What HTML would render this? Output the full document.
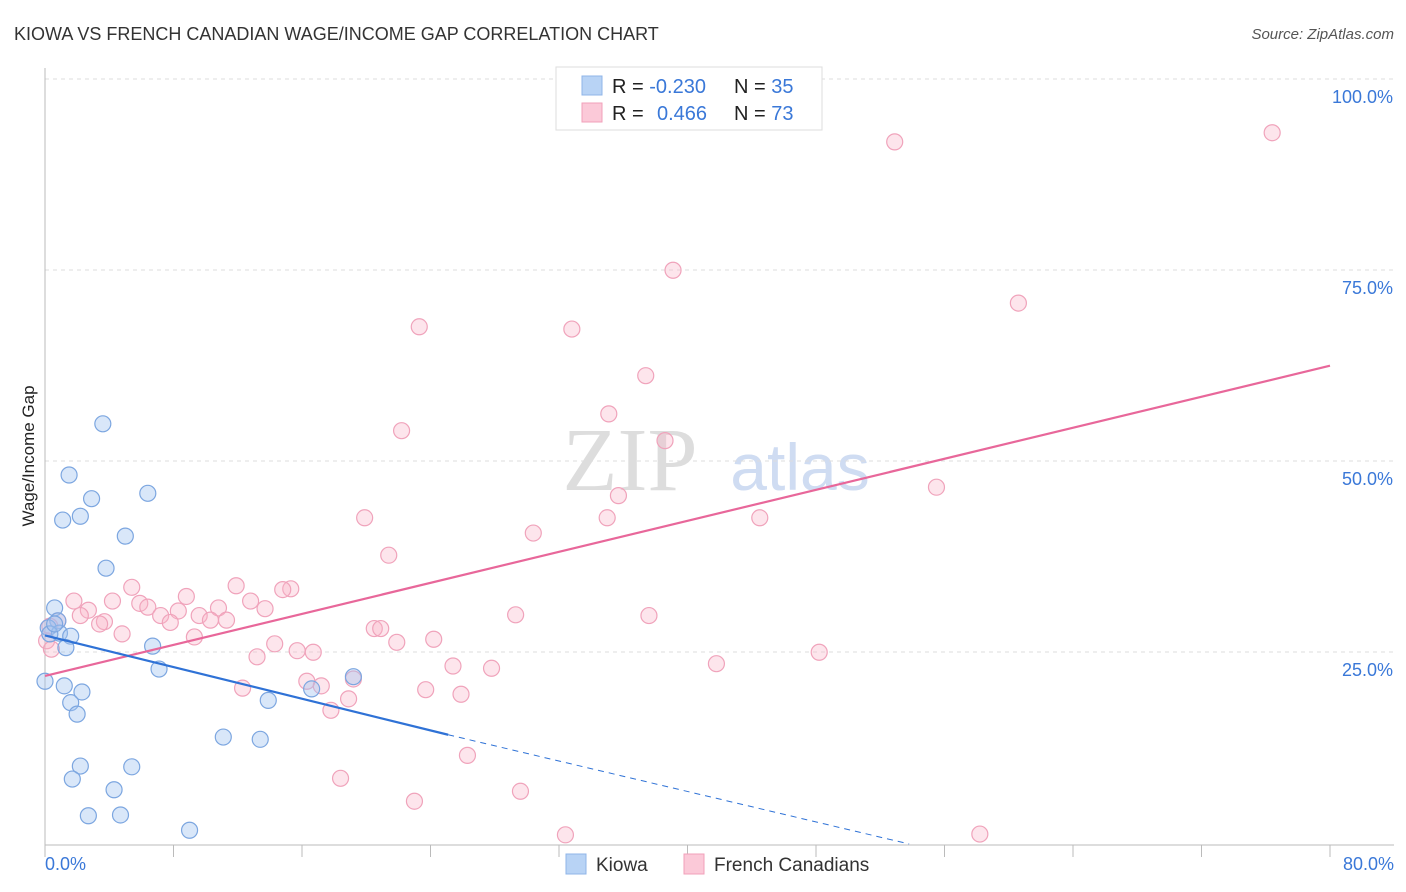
<!DOCTYPE html>
<html><head><meta charset="utf-8"><style>
body{margin:0;background:#fff;font-family:"Liberation Sans",sans-serif;}
svg{display:block}
</style></head><body>
<svg id="chart" width="1406" height="892">
<text x="14" y="40" font-size="18" fill="#333">KIOWA VS FRENCH CANADIAN WAGE/INCOME GAP CORRELATION CHART</text>
<text x="1394" y="39" font-size="15" fill="#555" font-style="italic" text-anchor="end">Source: ZipAtlas.com</text>
<text x="34" y="456" font-size="17" fill="#222" text-anchor="middle" transform="rotate(-90 34 456)">Wage/Income Gap</text>
<text x="630" y="490" font-size="90" fill="#ddd" font-family="Liberation Serif" text-anchor="middle">ZIP</text>
<text x="800" y="490" font-size="66" fill="#cfdcf2" text-anchor="middle">atlas</text>
<g id="grid"></g><g id="axes"></g><g id="pts"></g><g id="lines"></g>
<g>
<rect x="556" y="67" width="266" height="63" fill="#fff" stroke="#ddd"/>
<rect x="582" y="76" width="20" height="19" fill="#b8d3f5" stroke="#8fb5e8"/>
<rect x="582" y="103" width="20" height="19" fill="#fbc9d8" stroke="#f2a0ba"/>
<text x="612" y="93" font-size="20" fill="#222">R = <tspan fill="#3a78d8">-0.230</tspan></text>
<text x="734" y="93" font-size="20" fill="#222">N = <tspan fill="#3a78d8">35</tspan></text>
<text x="612" y="120" font-size="20" fill="#222">R = <tspan fill="#3a78d8" x="657">0.466</tspan></text>
<text x="734" y="120" font-size="20" fill="#222">N = <tspan fill="#3a78d8">73</tspan></text>
</g>
<g>
<rect x="566" y="854" width="20" height="20" fill="#b8d3f5" stroke="#8fb5e8"/>
<text x="596" y="871" font-size="19" fill="#333">Kiowa</text>
<rect x="684" y="854" width="20" height="20" fill="#fbc9d8" stroke="#f2a0ba"/>
<text x="714" y="871" font-size="19" fill="#333">French Canadians</text>
</g>
</svg>
<script>
const xTicks=[0,10,20,30,40,50,60,70,80];
const yTicks=[25,50,75,100];
const kiowaX=[3.6,1.5,2.9,1.1,2.2,6.4,5.0,3.8,0.6,0.8,0.2,0.9,1.6,1.3,6.7,7.1,0,1.2,2.3,1.6,2.0,13.9,16.6,19.2,11.1,13.4,2.2,5.4,1.7,4.3,2.7,4.7,9.0,0.3,0.6];
const kiowaY=[55.0,48.3,45.2,42.4,42.9,45.9,40.3,36.1,30.9,29.2,28.3,27.6,27.2,25.7,25.9,22.9,21.3,20.7,19.9,18.5,17.0,18.8,20.3,21.9,14.0,13.7,10.2,10.1,8.5,7.1,3.7,3.8,1.8,27.5,28.8];
const frX=[76.4,52.9,39.1,60.6,23.3,32.8,37.4,35.1,22.2,38.6,55.5,35.7,19.9,35.0,30.4,44.5,21.4,11.9,15.3,14.8,5.4,8.8,1.8,2.7,4.2,5.9,6.4,7.2,8.3,10.8,12.8,13.7,9.6,7.8,10.3,11.3,3.7,3.4,2.2,0.8,0.3,4.8,9.3,14.3,20.5,20.9,21.9,24.2,29.3,37.6,13.2,15.7,16.7,25.4,27.8,41.8,48.2,16.3,17.2,19.2,23.7,25.9,12.3,18.9,17.8,26.3,18.4,23.0,29.6,32.4,58.2,0.1,0.4];
const frY=[93.1,91.9,75.1,70.8,67.7,67.4,61.3,56.3,54.1,52.8,46.7,45.6,42.7,42.7,40.7,42.7,37.8,33.8,33.4,33.3,33.6,32.4,31.8,30.6,31.8,31.5,31.0,29.9,30.5,30.9,31.8,30.8,29.9,29.0,29.3,29.3,29.1,28.8,29.9,29.2,28.5,27.5,27.1,26.2,28.2,28.2,26.4,26.8,30.0,29.9,24.5,25.3,25.1,23.3,23.0,23.6,25.1,21.3,20.7,21.6,20.2,19.6,20.4,19.0,17.5,11.6,8.6,5.6,6.9,1.2,1.3,26.6,25.5];
const kiowaLine=[[0,27.3],[25.1,14.3]], kiowaDash=[[25.1,14.3],[53.8,0]];
const frLine=[[0,22.0],[80,62.6]];
const X=v=>45+v*(1285/80), Y=v=>844-v*7.64;
const NS='http://www.w3.org/2000/svg';
function mk(p,t,a){const e=document.createElementNS(NS,t);for(const k in a)e.setAttribute(k,a[k]);p.appendChild(e);return e;}
const grid=document.getElementById('grid'),axes=document.getElementById('axes'),pts=document.getElementById('pts'),lines=document.getElementById('lines');
yTicks.forEach(v=>{
 const l=mk(grid,'line',{x1:45,x2:1394,y1:Y(v)-1,y2:Y(v)-1,stroke:'#ddd','stroke-dasharray':'4 4'});
 
 
 const t=mk(grid,'text',{x:1393,y:Y(v)+23,'font-size':18,fill:'#3a78d8','text-anchor':'end'});
 t.textContent=v.toFixed(1)+'%';
 
 
});
mk(axes,'line',{x1:45,x2:45,y1:68,y2:845,stroke:'#bbb'});
mk(axes,'line',{x1:45,x2:1394,y1:845,y2:845,stroke:'#bbb'});
for(let i=0;i<=10;i++){const x=45+i*128.5;const tk=mk(axes,'line',{x1:x,x2:x,y1:845,y2:857,stroke:'#bbb'});
 
 }
[[0,'start',45],[80,'end',1394]].forEach(([v,a,x])=>{const t=mk(axes,'text',{x:x,y:870,'font-size':18,fill:'#3a78d8','text-anchor':a});t.textContent=v.toFixed(1)+'%';
 
 });
frX.forEach((v,i)=>{const c=mk(pts,'circle',{cx:X(v),cy:Y(frY[i]),r:8,fill:'rgba(248,180,200,0.35)',stroke:'#f0a3bb','stroke-width':1.2});
 
 });
kiowaX.forEach((v,i)=>{const c=mk(pts,'circle',{cx:X(v),cy:Y(kiowaY[i]),r:8,fill:'rgba(160,195,240,0.4)',stroke:'#7ca6e0','stroke-width':1.2});
 
 });
const fl=mk(lines,'line',{x1:X(frLine[0][0]),y1:Y(frLine[0][1]),x2:X(frLine[1][0]),y2:Y(frLine[1][1]),stroke:'#e8679a','stroke-width':2.2});


const kl=mk(lines,'line',{x1:X(kiowaLine[0][0]),y1:Y(kiowaLine[0][1]),x2:X(kiowaLine[1][0]),y2:Y(kiowaLine[1][1]),stroke:'#2f72d6','stroke-width':2.2});


const kd=mk(lines,'line',{x1:X(kiowaDash[0][0]),y1:Y(kiowaDash[0][1]),x2:X(kiowaDash[1][0]),y2:Y(kiowaDash[1][1]),stroke:'#2f72d6','stroke-width':1,'stroke-dasharray':'6 5'});


</script>
</body></html>
